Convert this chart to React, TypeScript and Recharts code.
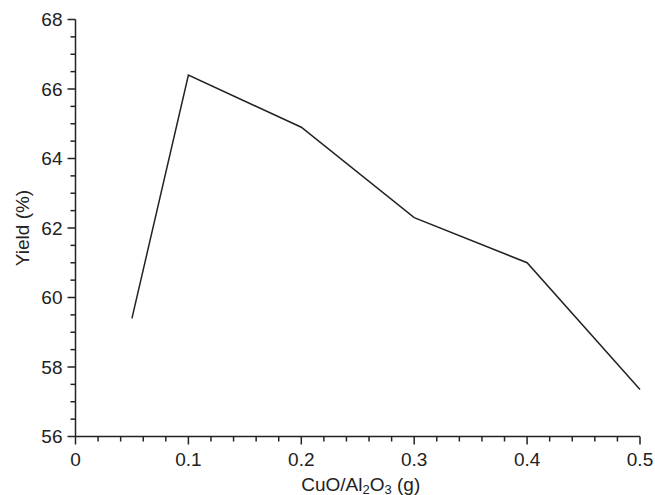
import React from 'react';
import { LineChart, Line, XAxis, YAxis, Label } from 'recharts';

// CuO/Al2O3 loading (g) vs yield (%)
const loading = [0.05, 0.1, 0.2, 0.3, 0.4, 0.5];
const yieldPct = [59.4, 66.4, 64.9, 62.3, 61.0, 57.35];

// all tick positions, majors get a label
const xTicks = [
  0, 0.02, 0.04, 0.06, 0.08, 0.1, 0.12, 0.14, 0.16, 0.18, 0.2, 0.22, 0.24,
  0.26, 0.28, 0.3, 0.32, 0.34, 0.36, 0.38, 0.4, 0.42, 0.44, 0.46, 0.48, 0.5,
];
const xMajor = [0, 0.1, 0.2, 0.3, 0.4, 0.5];
const yTicks = [
  56, 56.5, 57, 57.5, 58, 58.5, 59, 59.5, 60, 60.5, 61, 61.5, 62, 62.5, 63,
  63.5, 64, 64.5, 65, 65.5, 66, 66.5, 67, 67.5, 68,
];
const yMajor = [56, 58, 60, 62, 64, 66, 68];

const data = loading.map((x, i) => ({ x, y: yieldPct[i] }));

const INK = '#222';
const FONT = '"Liberation Sans", Arial, sans-serif';

const isMajor = (list: number[], v: number) =>
  list.some((m) => Math.abs(m - v) < 1e-6);

const XTick = (props: any) => {
  const { x, y, payload } = props;
  const major = isMajor(xMajor, payload.value);
  return (
    <g>
      <line x1={x} y1={y} x2={x} y2={y + (major ? 8 : 5)} stroke={INK} strokeWidth={1.5} />
      {major && (
        <text x={x} y={y + 16} dy="0.71em" textAnchor="middle" fontSize={19} fill={INK} fontFamily={FONT}>
          {String(payload.value)}
        </text>
      )}
    </g>
  );
};

const YTick = (props: any) => {
  const { x, y, payload } = props;
  const major = isMajor(yMajor, payload.value);
  return (
    <g>
      <line x1={x - (major ? 8 : 5)} y1={y} x2={x} y2={y} stroke={INK} strokeWidth={1.5} />
      {major && (
        <text x={x - 13} y={y} dy="0.355em" textAnchor="end" fontSize={19} fill={INK} fontFamily={FONT}>
          {payload.value}
        </text>
      )}
    </g>
  );
};

const XTitle = (props: any) => {
  const vb = props.viewBox;
  return (
    <text x={vb.x + vb.width / 2 + 3} y={vb.y + 54} textAnchor="middle" fontSize={19} fill={INK} fontFamily={FONT}>
      CuO/Al
      <tspan fontSize={13} dy={3}>2</tspan>
      <tspan dy={-3}>O</tspan>
      <tspan fontSize={13} dy={3}>3</tspan>
      <tspan dy={-3}> (g)</tspan>
    </text>
  );
};

const YTitle = (props: any) => {
  const vb = props.viewBox;
  const cx = 28.5;
  const cy = vb.y + vb.height / 2;
  return (
    <text x={cx} y={cy} transform={`rotate(-90 ${cx} ${cy})`} textAnchor="middle" fontSize={19} fill={INK} fontFamily={FONT}>
      Yield (%)
    </text>
  );
};

export default function App() {
  return (
    <div style={{ position: 'absolute', left: 0, top: 0, background: '#fff' }}>
      <LineChart
        width={655}
        height={495}
        data={data}
        margin={{ top: 19.5, right: 15, bottom: 18.5, left: 0 }}
      >
        <XAxis
          dataKey="x"
          type="number"
          domain={[0, 0.5]}
          ticks={xTicks}
          interval={0}
          tick={<XTick />}
          tickLine={false}
          tickSize={0}
          tickMargin={0}
          height={40}
          axisLine={{ stroke: INK, strokeWidth: 1.5 }}
        >
          <Label content={<XTitle />} />
        </XAxis>
        <YAxis
          type="number"
          domain={[56, 68]}
          ticks={yTicks}
          interval={0}
          tick={<YTick />}
          tickLine={false}
          tickSize={0}
          tickMargin={0}
          width={75.5}
          axisLine={{ stroke: INK, strokeWidth: 1.5 }}
        >
          <Label content={<YTitle />} />
        </YAxis>
        <Line
          type="linear"
          dataKey="y"
          stroke={INK}
          strokeWidth={1.5}
          dot={false}
          isAnimationActive={false}
        />
      </LineChart>
    </div>
  );
}
